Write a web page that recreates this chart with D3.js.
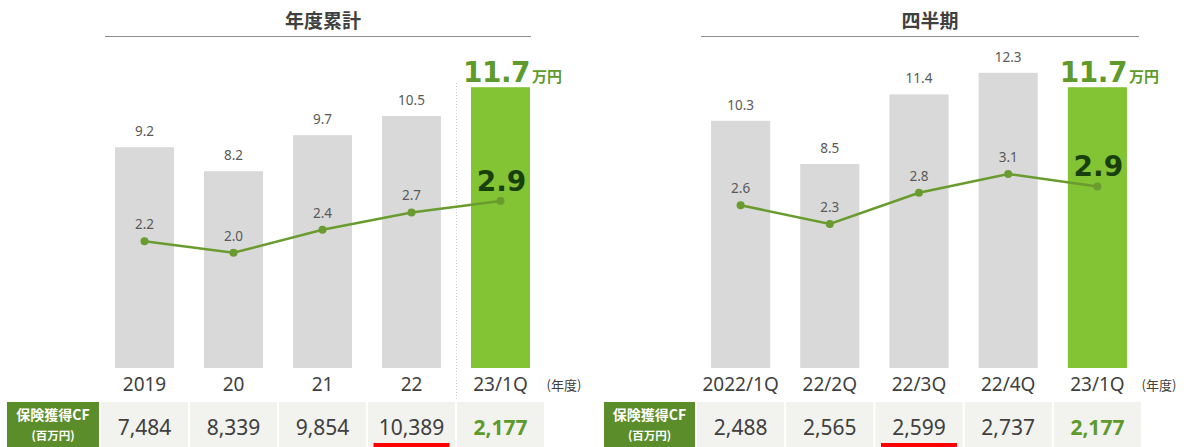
<!DOCTYPE html>
<html>
<head>
<meta charset="utf-8">
<script src="https://cdn.jsdelivr.net/npm/d3@7"></script>
<style>
  html, body { margin: 0; padding: 0; background: #ffffff; }
  svg { display: block; }
</style>
</head>
<body>
<svg id="chart" width="1184" height="447"></svg>
<script>
// ---------- DATA ----------
const yearTitle = "年度累計";
const yearCats = ["2019", "20", "21", "22", "23/1Q"];
const yearBars = [9.2, 8.2, 9.7, 10.5, 11.7];
const yearLine = [2.2, 2.0, 2.4, 2.7, 2.9];
const yearCF = [7484, 8339, 9854, 10389, 2177];
const yearUnderlined = "22";

const qTitle = "四半期";
const qCats = ["2022/1Q", "22/2Q", "22/3Q", "22/4Q", "23/1Q"];
const qBars = [10.3, 8.5, 11.4, 12.3, 11.7];
const qLine = [2.6, 2.3, 2.8, 3.1, 2.9];
const qCF = [2488, 2565, 2599, 2737, 2177];
const qUnderlined = "22/3Q";

const rowHeader = ["保険獲得CF", "(百万円)"];
const barUnit = "万円";
const periodLabel = "(年度)";

// ---------- STYLE ----------
const C = {
  gray: "#d9d9d9",
  green: "#82c434",
  line: "#6a9b2f",
  bigGreen: "#5e9a2c",
  darkGreen: "#183f0c",
  text: "#404040",
  label: "#595959",
  header: "#5b8d2a",
  cell: "#f2f2ee",
  red: "#ff0000"
};
const numFont = "'Noto Sans', 'DejaVu Sans', sans-serif";
const jpFont = "'Noto Sans CJK JP', sans-serif";
const boldFont = "'DejaVu Sans', sans-serif";
const fmt = d3.format(",");

const svg = d3.select("#chart");

function panel(cfg) {
  const g = svg.append("g");
  const baseY = 368;
  const x = d3.scaleBand().domain(cfg.cats).range(cfg.xRange)
    .paddingInner(0.337).paddingOuter(0.1685);
  const yBar = d3.scaleLinear().domain([0, 12]).range([baseY, 80]);
  const yLine = d3.scaleLinear().domain([0, cfg.lineMax]).range([baseY, 80]);
  const cx = d => x(d) + x.bandwidth() / 2;
  const last = cfg.cats[cfg.cats.length - 1];

  // title
  g.append("text").attr("x", cfg.titleX).attr("y", 28)
    .attr("text-anchor", "middle").attr("font-family", jpFont)
    .attr("font-weight", "bold").attr("font-size", 19).attr("fill", C.text)
    .text(cfg.title);
  g.append("line").attr("x1", cfg.ruleX[0]).attr("x2", cfg.ruleX[1])
    .attr("y1", 36.5).attr("y2", 36.5).attr("stroke", "#8c8c8c").attr("stroke-width", 1);

  // separator
  if (cfg.separator) {
    const sx = x(last) - (x.step() - x.bandwidth()) / 2 + 0.5;
    g.append("line").attr("x1", sx).attr("x2", sx).attr("y1", 83).attr("y2", 400)
      .attr("stroke", "#c8c8c8").attr("stroke-width", 1).attr("stroke-dasharray", "1,2");
  }

  // bars
  const data = cfg.cats.map((c, i) => ({ c, bar: cfg.bars[i], line: cfg.line[i], cf: cfg.cf[i] }));
  g.selectAll("rect.bar").data(data).enter().append("rect")
    .attr("class", "bar")
    .attr("x", d => x(d.c)).attr("width", x.bandwidth())
    .attr("y", d => yBar(d.bar)).attr("height", d => baseY - yBar(d.bar))
    .attr("fill", d => d.c === last ? C.green : C.gray);

  // bar labels
  g.selectAll("text.bl").data(data.filter(d => d.c !== last)).enter().append("text")
    .attr("x", d => cx(d.c)).attr("y", d => yBar(d.bar) - 11)
    .attr("text-anchor", "middle").attr("font-family", numFont)
    .attr("font-size", 13.5).attr("fill", C.label).text(d => d.bar.toFixed(1));

  // big label for last bar
  const big = g.append("text").attr("x", cx(last) + 12).attr("y", yBar(cfg.bars[cfg.bars.length - 1]) - 5)
    .attr("text-anchor", "middle").attr("font-family", boldFont).attr("font-weight", "bold")
    .attr("fill", C.bigGreen);
  big.append("tspan").attr("font-size", 28).attr("letter-spacing", -0.5)
    .text(cfg.bars[cfg.bars.length - 1].toFixed(1));
  big.append("tspan").attr("font-family", jpFont).attr("font-size", 15).attr("dx", 2).text(barUnit);

  // line
  const lineGen = d3.line().x(d => cx(d.c)).y(d => yLine(d.line));
  g.append("path").datum(data).attr("d", lineGen)
    .attr("fill", "none").attr("stroke", C.line).attr("stroke-width", 2.5);
  g.selectAll("circle.pt").data(data).enter().append("circle")
    .attr("cx", d => cx(d.c)).attr("cy", d => yLine(d.line)).attr("r", 4)
    .attr("fill", C.line);
  g.selectAll("text.ll").data(data.filter(d => d.c !== last)).enter().append("text")
    .attr("x", d => cx(d.c)).attr("y", d => yLine(d.line) - 12)
    .attr("text-anchor", "middle").attr("font-family", numFont)
    .attr("font-size", 13.5).attr("fill", C.label).text(d => d.line.toFixed(1));
  g.append("text").attr("x", cx(last) + 1).attr("y", yLine(cfg.line[cfg.line.length - 1]) - 10)
    .attr("text-anchor", "middle").attr("font-family", boldFont).attr("font-weight", "bold")
    .attr("font-size", 28).attr("fill", C.darkGreen)
    .text(cfg.line[cfg.line.length - 1].toFixed(1));

  // x axis labels
  const ax = d3.axisBottom(x).tickSize(0).tickPadding(0);
  const axg = g.append("g").attr("transform", `translate(0,${baseY})`).call(ax);
  axg.select(".domain").remove();
  axg.selectAll("text").attr("dy", null).attr("y", 23)
    .attr("font-family", numFont).attr("font-size", 19).attr("fill", C.text);
  g.append("text").attr("x", cfg.periodX).attr("y", 390)
    .attr("text-anchor", "middle").attr("font-family", jpFont)
    .attr("font-size", 13).attr("fill", C.text).text(periodLabel);

  // table row
  const tTop = 402;
  g.append("rect").attr("x", cfg.headerX[0]).attr("y", tTop)
    .attr("width", cfg.headerX[1] - cfg.headerX[0]).attr("height", 50).attr("fill", C.header);
  g.append("text").attr("x", (cfg.headerX[0] + cfg.headerX[1]) / 2).attr("y", 420)
    .attr("text-anchor", "middle").attr("font-family", jpFont).attr("font-weight", "bold")
    .attr("font-size", 14).attr("fill", "#ffffff").text(rowHeader[0]);
  g.append("text").attr("x", (cfg.headerX[0] + cfg.headerX[1]) / 2).attr("y", 440)
    .attr("text-anchor", "middle").attr("font-family", jpFont).attr("font-weight", "bold")
    .attr("font-size", 11.5).attr("fill", "#ffffff").text(rowHeader[1]);

  g.selectAll("rect.cell").data(data).enter().append("rect")
    .attr("x", d => x(d.c) - (x.step() - x.bandwidth()) / 2 + 1)
    .attr("width", x.step() - 2)
    .attr("y", tTop).attr("height", 50).attr("fill", C.cell);
  g.selectAll("text.cf").data(data).enter().append("text")
    .attr("x", d => cx(d.c)).attr("y", 435)
    .attr("text-anchor", "middle").attr("font-family", numFont)
    .attr("font-size", 21)
    .attr("font-weight", d => d.c === last ? "bold" : "normal")
    .attr("fill", d => d.c === last ? C.bigGreen : C.text)
    .text(d => fmt(d.cf));

  // red underline
  const ul = cfg.underlined;
  g.append("rect").attr("x", cx(ul) - 38).attr("width", 76)
    .attr("y", 443).attr("height", 4).attr("fill", C.red);
}

panel({
  title: yearTitle, titleX: 323, ruleX: [105, 531],
  cats: yearCats, bars: yearBars, line: yearLine, cf: yearCF,
  lineMax: 5, xRange: [100, 545], separator: true,
  periodX: 564, headerX: [7, 99], underlined: yearUnderlined
});
panel({
  title: qTitle, titleX: 930, ruleX: [701, 1139],
  cats: qCats, bars: qBars, line: qLine, cf: qCF,
  lineMax: 4.6, xRange: [696, 1142], separator: false,
  periodX: 1159, headerX: [604, 695], underlined: qUnderlined
});
</script>
</body>
</html>
